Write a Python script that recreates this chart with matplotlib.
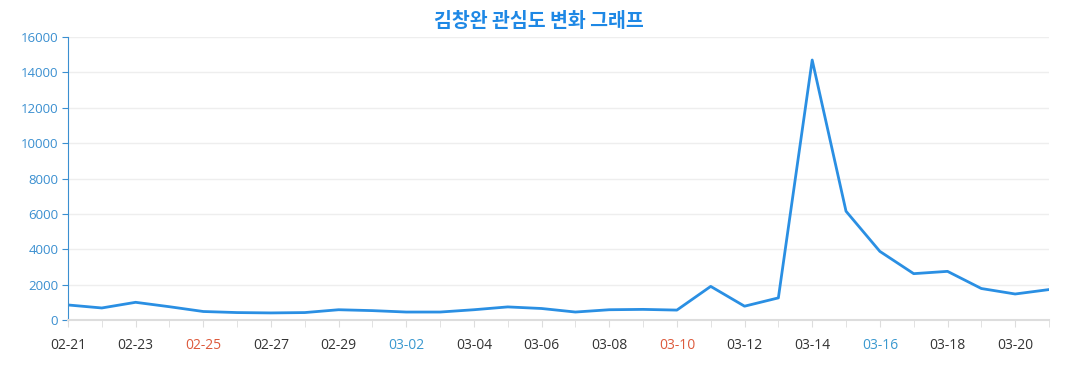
import numpy as np
import matplotlib.pyplot as plt

plt.rcParams['font.family'] = ['Open Sans', 'Noto Sans CJK KR', 'DejaVu Sans']

dates = ['02-21', '02-22', '02-23', '02-24', '02-25', '02-26', '02-27', '02-28', '02-29',
         '03-01', '03-02', '03-03', '03-04', '03-05', '03-06', '03-07', '03-08', '03-09',
         '03-10', '03-11', '03-12', '03-13', '03-14', '03-15', '03-16', '03-17', '03-18',
         '03-19', '03-20', '03-21']
values = [850, 680, 1000, 750, 480, 420, 400, 420, 580,
          530, 450, 450, 580, 740, 650, 450, 580, 600,
          560, 1900, 780, 1250, 14700, 6150, 3880, 2620, 2750,
          1780, 1470, 1720]
red_days = ['02-25', '03-10']
blue_days = ['03-02', '03-16']

fig = plt.figure(figsize=(10.77, 3.9), dpi=100)
ax = fig.add_axes([0.0631, 0.1795, 0.9109, 0.7256])

x = np.arange(len(dates))
ax.plot(x, values, color='#2a8fe3', lw=2)

ax.set_xlim(0, len(dates) - 1)
ax.set_ylim(0, 16000)
ax.set_yticks(np.arange(0, 16001, 2000))
ax.grid(axis='y', color='#eeeeee', lw=1)
ax.set_axisbelow(True)

ax.set_xticks(x, minor=True)
ax.set_xticks(x[::2])
ax.set_xticklabels(dates[::2])
for lbl, d in zip(ax.get_xticklabels(), dates[::2]):
    if d in red_days:
        lbl.set_color('#dd5a3c')
    elif d in blue_days:
        lbl.set_color('#3a98cf')
    else:
        lbl.set_color('#333333')

ax.tick_params(axis='x', which='both', length=5, color='#dddddd', labelsize=10, pad=8)
ax.tick_params(axis='y', length=4, color='#3a8fd0', labelcolor='#3a8fd0', labelsize=9.5, pad=3)

for s in ['top', 'right']:
    ax.spines[s].set_visible(False)
ax.spines['left'].set_color('#3a8fd0')
ax.spines['bottom'].set_color('#dddddd')
ax.spines['bottom'].set_linewidth(1.5)

fig.text(0.5, 0.945, '김창완 관심도 변화 그래프', ha='center', va='center',
         fontsize=14, fontweight='bold', color='#1e88e5', family=['Noto Sans CJK KR'])

fig.savefig('out.png', dpi=100)
